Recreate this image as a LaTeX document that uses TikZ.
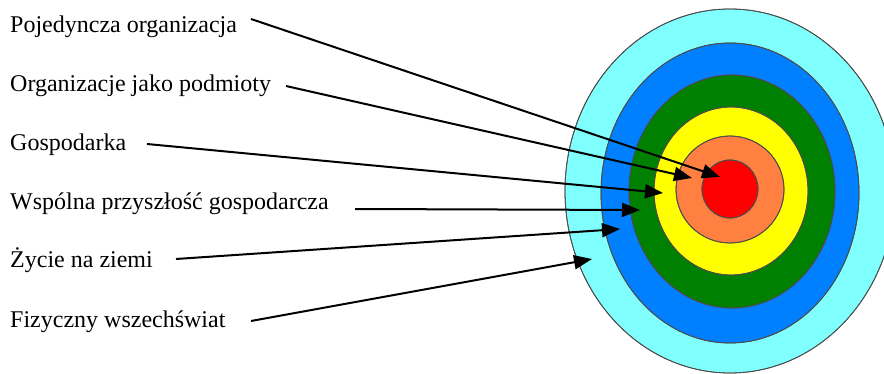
\documentclass[tikz,border=0pt]{standalone}
\usepackage{fontspec}
\setmainfont{Liberation Serif}
\usetikzlibrary{arrows.meta}

\definecolor{ringcyan}{RGB}{128,255,255}
\definecolor{ringblue}{RGB}{0,128,255}
\definecolor{ringgreen}{RGB}{0,128,0}
\definecolor{ringyellow}{RGB}{255,255,0}
\definecolor{ringorange}{RGB}{255,128,64}
\definecolor{ringred}{RGB}{255,0,0}

\begin{document}
\begin{tikzpicture}[
    x=1pt, y=-1pt,
    label/.style={anchor=base west, inner sep=0pt, font=\fontsize{24}{28}\selectfont},
    ring/.style={draw=black!70, line width=0.8pt},
    arrow/.style={-{Triangle[length=18pt, width=14pt]}, line width=2pt}
]
    \useasboundingbox (0,0) rectangle (884,374);

    % Rings, outer first
    \fill[ring, fill=ringcyan] (730,191) ellipse [x radius=165, y radius=182];
    \fill[ring, fill=ringblue] (730,193) ellipse [x radius=129, y radius=150];
    \fill[ring, fill=ringgreen] (732,191.5) ellipse [x radius=103, y radius=116.5];
    \fill[ring, fill=ringyellow] (731,191) ellipse [x radius=77, y radius=84];
    \fill[ring, fill=ringorange] (730,189.5) ellipse [x radius=54, y radius=53.5];
    \fill[ring, fill=ringred] (730,189) ellipse [x radius=28, y radius=29];
    \draw[ring] (730,191) ellipse [x radius=165, y radius=182];
    \draw[ring] (730,193) ellipse [x radius=129, y radius=150];
    \draw[ring] (732,191.5) ellipse [x radius=103, y radius=116.5];
    \draw[ring] (731,191) ellipse [x radius=77, y radius=84];
    \draw[ring] (730,189.5) ellipse [x radius=54, y radius=53.5];
    \draw[ring] (730,189) ellipse [x radius=28, y radius=29];

    % Labels
    \node[label] (org) at (10,33) {Pojedyncza organizacja};
    \node[label] (pod) at (10,92) {Organizacje jako podmioty};
    \node[label] (gosp) at (10,151) {Gospodarka};
    \node[label] (przy) at (10,210) {Wspólna przyszłość gospodarcza};
    \node[label] (zyc) at (10,268) {Życie na ziemi};
    \node[label] (wsz) at (10,327) {Fizyczny wszechświat};

    % Arrow ends
    \coordinate (org-s) at (251,19);
    \coordinate (pod-s) at (286,86);
    \coordinate (gosp-s) at (147,144);
    \coordinate (przy-s) at (355,209);
    \coordinate (zyc-s) at (176,259);
    \coordinate (wsz-s) at (251,321);
    \coordinate (org-t) at (720,177);
    \coordinate (pod-t) at (692,178);
    \coordinate (gosp-t) at (663,193);
    \coordinate (przy-t) at (640,210);
    \coordinate (zyc-t) at (620,229);
    \coordinate (wsz-t) at (592,259);

    % Arrows
    \draw[arrow] (org-s) -- (org-t);
    \draw[arrow] (pod-s) -- (pod-t);
    \draw[arrow] (gosp-s) -- (gosp-t);
    \draw[arrow] (przy-s) -- (przy-t);
    \draw[arrow] (zyc-s) -- (zyc-t);
    \draw[arrow] (wsz-s) -- (wsz-t);

\end{tikzpicture}
\end{document}
